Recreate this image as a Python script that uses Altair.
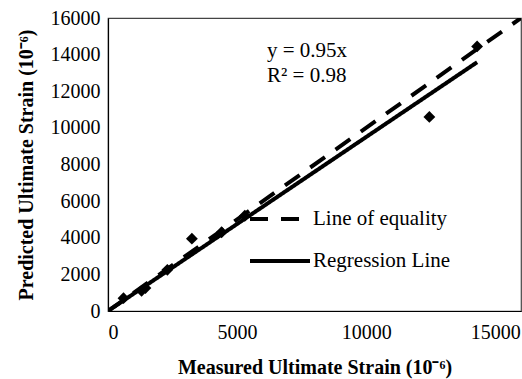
import altair as alt
import pandas as pd

# measured vs predicted ultimate strain (10^-6)
measured = [600, 1300, 1450, 2300, 3250, 4400, 5300, 12450, 14300]
predicted = [700, 1100, 1250, 2250, 3950, 4300, 5200, 10600, 14450]

series_names = ["Line of equality", "Regression Line"]
line_x = [[0, 16000], [0, 14300]]
slopes = [1.0, 0.95]

annotation = ["y = 0.95x", "R² = 0.98"]

pts = pd.DataFrame({"x": measured, "y": predicted})
rows = []
for name, xs, m in zip(series_names, line_x, slopes):
    for xv in xs:
        rows.append({"series": name, "x": xv, "y": m * xv})
lines = pd.DataFrame(rows)

FONT = "Liberation Serif"
xscale = alt.Scale(domain=[0, 16000], nice=False, zero=True)
yscale = alt.Scale(domain=[0, 16000], nice=False)

xaxis = alt.Axis(values=[0, 5000, 10000, 15000], format="d", labelOverlap=False,
                 labelFont=FONT, titleFont=FONT, labelPadding=11,
                 title="Measured Ultimate Strain (10⁻⁶)", titlePadding=15)
yaxis = alt.Axis(values=list(range(0, 16001, 2000)), format="d", labelOverlap=False,
                 labelFont=FONT, titleFont=FONT, labelPadding=8,
                 title="Predicted Ultimate Strain (10⁻⁶)", titlePadding=14)

X = alt.X("x:Q", scale=xscale, axis=xaxis)
Y = alt.Y("y:Q", scale=yscale, axis=yaxis)

line_layer = alt.Chart(lines).mark_line(color="black", strokeWidth=4, clip=True).encode(
    x=X, y=Y,
    strokeDash=alt.StrokeDash(
        "series:N",
        scale=alt.Scale(domain=series_names, range=[[18, 13], [1, 0]]),
        legend=alt.Legend(
            title=None, orient="none", legendX=140, legendY=169,
            symbolType="stroke", symbolSize=3600, symbolStrokeWidth=4,
            symbolStrokeColor="black",
            labelFont=FONT, labelFontSize=21, labelColor="black",
            rowPadding=-10, labelOffset=1, labelLimit=300,
        ),
    ),
    detail="series:N",
)

point_layer = alt.Chart(pts).mark_point(
    shape="diamond", filled=True, color="black", size=140, opacity=1
).encode(x=X, y=Y)

text_layer = alt.Chart(pd.DataFrame({"t": ["\n".join(annotation)]})).mark_text(
    align="left", baseline="top", font=FONT, fontSize=21, color="black",
    lineBreak="\n", lineHeight=25, x=159, y=22,
).encode(text="t:N")

chart = (line_layer + point_layer + text_layer).properties(
    width=413, height=293,
    autosize=alt.AutoSizeParams(type="none"),
    padding={"left": 108, "top": 18, "right": 1, "bottom": 68},
).configure(font=FONT).configure_view(stroke="#444", strokeWidth=1.2).configure_axis(
    grid=False, ticks=False, domainColor="black", domainWidth=1.2,
    labelFontSize=20, labelColor="black",
    titleFontSize=20, titleFontWeight="bold", titleColor="black",
)

chart.save("out.html", embed_options={"renderer": "svg", "actions": False})
